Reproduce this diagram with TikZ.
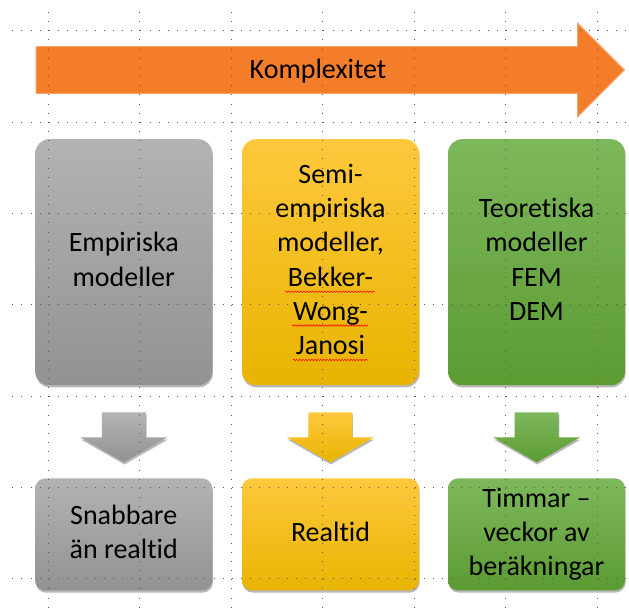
\documentclass[tikz,border=0pt]{standalone}
\usepackage{fontspec}
\setmainfont{Carlito}[Ligatures=NoCommon]
\usetikzlibrary{shadows,decorations.pathmorphing}
\definecolor{orangeA}{HTML}{F47D2A}
\definecolor{orangeB}{HTML}{F8A468}
\definecolor{grayT}{HTML}{B3B3B3}
\definecolor{grayB}{HTML}{929292}
\definecolor{yelT}{HTML}{FFC83D}
\definecolor{yelB}{HTML}{E8B400}
\definecolor{grnT}{HTML}{7DB85C}
\definecolor{grnB}{HTML}{5C9B32}
\definecolor{gridc}{HTML}{5A5A5A}
\newcommand{\ms}{\rule[-10.26pt]{0pt}{34.2pt}}
\newcommand{\dnarr}[3]{%
  \path[top color=#2,bottom color=#3,shad]
    (#1-22,412.3) -- (#1+22,412.3) -- (#1+22,437.3) -- (#1+43.5,437.3)
    -- (#1,462.3) -- (#1-43.5,437.3) -- (#1-22,437.3) -- cycle;}
\begin{document}
\begin{tikzpicture}[x=1pt,y=-1pt,
  txt/.style={font=\fontsize{28}{34.2}\selectfont, align=center, text=black},
  shad/.style={drop shadow={shadow xshift=0.6pt,shadow yshift=-2.2pt,opacity=0.28,fill=black}},
  bigbox/.style={txt, rectangle, rounded corners=14pt, minimum width=177pt, minimum height=246pt, inner sep=0pt, shad},
  smallbox/.style={txt, rectangle, rounded corners=10pt, minimum width=177pt, minimum height=112pt, inner sep=0pt, shad},
  grayfill/.style={top color=grayT, bottom color=grayB},
  yelfill/.style={top color=yelT, bottom color=yelB},
  grnfill/.style={top color=grnT, bottom color=grnB},
  gridline/.style={gridc, line width=1pt, dash pattern=on 1pt off 8.15pt},
  wavy/.style={red!85!orange, line width=0.6pt, decorate, decoration={snake, amplitude=0.8pt, segment length=3pt}}
]
\useasboundingbox (0,0) rectangle (629,610);

% big orange arrow
\draw[orangeB, line width=1pt, fill=orangeA]
  (36,46.7) coordinate (tail) -- (577.7,46.7) -- (577.7,23.3) -- (624.3,70) coordinate (tip)
  -- (577.7,116.7) -- (577.7,93.3) -- (36,93.3) -- cycle;
\node[txt, inner sep=0pt] (komp) at (318,72) {\ms Komplexitet};

% top boxes
\node[bigbox, grayfill] (emp) at (123.75,262.2) {\ms Empiriska\\modeller\ms};
\node[bigbox, yelfill] (semi) at (330.5,262.2) {\ms Semi-\\empiriska\\modeller,\\Bekker-\\Wong-\\Janosi\ms};
\node[bigbox, grnfill] (teo) at (536.5,262.2) {\ms Teoretiska\\modeller\\FEM\\DEM\ms};

% down arrows
\dnarr{123.9}{grayT}{grayB}
\dnarr{330.3}{yelT}{yelB}
\dnarr{536.7}{grnT}{grnB}

% bottom boxes
\node[smallbox, grayfill] (snab) at (123.75,534.4) {\ms Snabbare\\än realtid\ms};
\node[smallbox, yelfill] (real) at (330.5,534.4) {\ms Realtid};
\node[smallbox, grnfill] (tim) at (536.5,534.4) {\ms Timmar –\\veckor av\\beräkningar\ms};

% spell-check underlines
\draw[wavy] (285,291.7) -- (375,291.7);
\draw[wavy] (291.7,325.5) -- (368,325.5);
\draw[wavy] (293,360) -- (368,360);

% grid dots
\foreach \yy in {30.7,122,213.3,304.7,396,487.3,578.7}
  \draw[gridline] (12.3,\yy) -- (629,\yy);
\foreach \xx in {48,139.5,231,322.5,414,505.5,597}
  \draw[gridline] (\xx,12) -- (\xx,610);
\end{tikzpicture}
\end{document}
